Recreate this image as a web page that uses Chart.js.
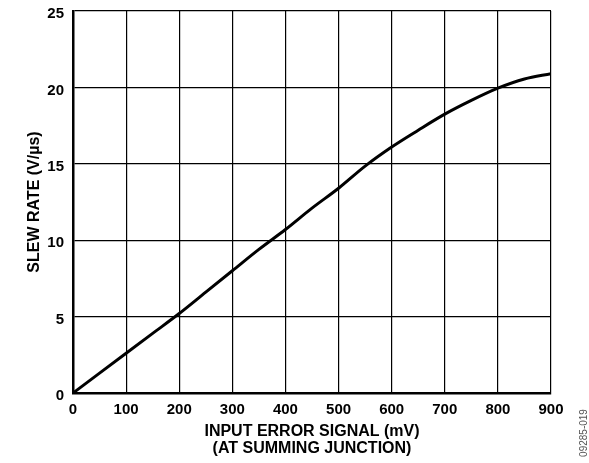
<!DOCTYPE html>
<html>
<head>
<meta charset="utf-8">
<script src="https://cdn.jsdelivr.net/npm/chart.js@4"></script>
<style>
  body { margin: 0; background: #fff; }
  #wrap { width: 589px; height: 463px; }
</style>
</head>
<body>
<div id="wrap"><canvas id="slewChart" width="589" height="463"></canvas></div>
<script>
// input error signal (mV) and slew rate (V/us)
var errorSignal = [0, 50, 100, 150, 200, 250, 300, 350, 400, 450, 500, 550, 600, 650, 700, 750, 800, 850, 900];
var slewRate = [0, 1.3, 2.6, 3.9, 5.2, 6.6, 8.0, 9.4, 10.7, 12.1, 13.4, 14.85, 16.1, 17.2, 18.25, 19.15, 19.95, 20.55, 20.9];

var xTitle = ['INPUT ERROR SIGNAL (mV)', '(AT SUMMING JUNCTION)'];
var yTitle = 'SLEW RATE (V/\u00b5s)';
var figureCode = '09285-019';

var tickFont = { family: 'Liberation Sans, Arial, sans-serif', size: 15, weight: 'bold' };
var titleFont = { family: 'Liberation Sans, Arial, sans-serif', size: 16, weight: 'bold', lineHeight: 1.05 };

// small rotated figure code at the lower right
var codePlugin = {
    id: 'figureCode',
    afterDraw: function(chart) {
        var ctx = chart.ctx;
        ctx.save();
        ctx.translate(584, 433);
        ctx.rotate(-Math.PI / 2);
        ctx.font = '10px Liberation Sans, Arial, sans-serif';
        ctx.fillStyle = '#555';
        ctx.textAlign = 'center';
        ctx.textBaseline = 'middle';
        ctx.fillText(figureCode, 0, 0);
        ctx.restore();
    }
};

var points = errorSignal.map(function(x, i) { return { x: x, y: slewRate[i] }; });

new Chart(document.getElementById('slewChart'), {
    type: 'line',
    data: {
        datasets: [{
            data: points,
            borderColor: '#000',
            borderWidth: 3,
            pointRadius: 0,
            fill: false,
            cubicInterpolationMode: 'monotone'
        }]
    },
    options: {
        responsive: false,
        animation: false,
        layout: { padding: { left: 0, top: 11, right: 38, bottom: 0 } },
        plugins: {
            legend: { display: false },
            tooltip: { enabled: false }
        },
        scales: {
            x: {
                type: 'linear',
                min: 0,
                max: 900,
                ticks: { stepSize: 100, color: '#000', font: tickFont, padding: 8, maxRotation: 0 },
                grid: { color: '#000', lineWidth: 1.2, drawTicks: false },
                border: { color: '#000', width: 2.5 },
                title: {
                    display: true,
                    text: xTitle,
                    color: '#000',
                    font: titleFont,
                    padding: { top: 0, bottom: 6 }
                },
                afterFit: function(scale) { scale.height = 70; }
            },
            y: {
                min: 0,
                max: 25,
                ticks: { stepSize: 5, color: '#000', font: tickFont, padding: 9, labelOffset: 3 },
                grid: { color: '#000', lineWidth: 1.2, drawTicks: false },
                border: { color: '#000', width: 2.5 },
                title: {
                    display: true,
                    text: yTitle,
                    color: '#000',
                    font: titleFont,
                    padding: { top: 26, bottom: 0 }
                },
                afterFit: function(scale) {
                    scale.width = 73;
                    scale.paddingTop = 0;
                    scale.paddingBottom = 0;
                }
            }
        }
    },
    plugins: [codePlugin]
});
</script>
</body>
</html>
